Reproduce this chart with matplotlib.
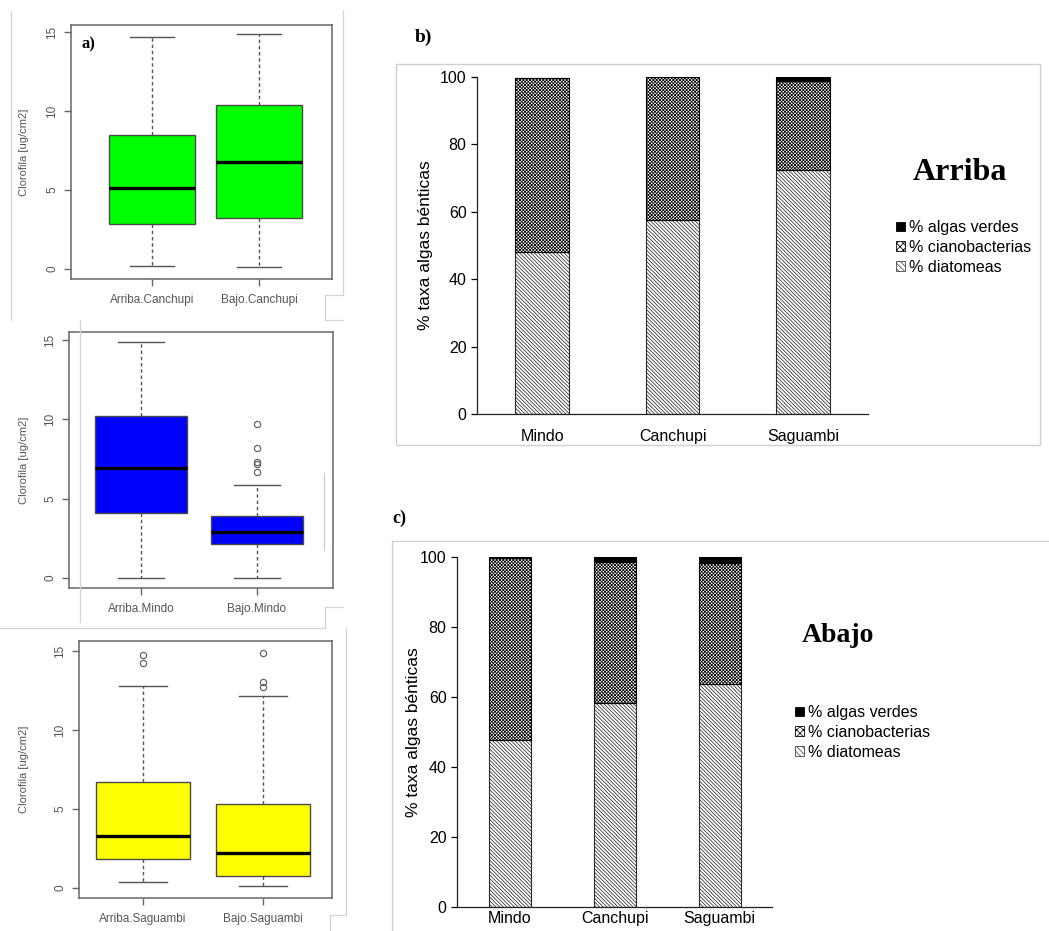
import numpy as np
import matplotlib
matplotlib.use('Agg')
from matplotlib import pyplot as plt
from matplotlib.patches import Patch, Rectangle
from matplotlib.lines import Line2D

W, H = 1049, 931

# ---- panel a) clorofila boxplots (five-number summaries read off the picture)
canchupi_labels = ['Arriba.Canchupi', 'Bajo.Canchupi']
canchupi_lo = [0.21, 0.10]
canchupi_q1 = [2.87, 3.23]
canchupi_med = [5.13, 6.77]
canchupi_q3 = [8.46, 10.36]
canchupi_hi = [14.66, 14.87]
canchupi_out = [[], []]

mindo_labels = ['Arriba.Mindo', 'Bajo.Mindo']
mindo_lo = [0.02, -0.03]
mindo_q1 = [4.12, 2.15]
mindo_med = [6.96, 2.88]
mindo_q3 = [10.22, 3.93]
mindo_hi = [14.85, 5.85]
mindo_out = [[], [6.65, 7.2, 7.28, 8.18, 9.72]]

saguambi_labels = ['Arriba.Saguambi', 'Bajo.Saguambi']
saguambi_lo = [0.36, 0.10]
saguambi_q1 = [1.83, 0.78]
saguambi_med = [3.27, 2.19]
saguambi_q3 = [6.68, 5.33]
saguambi_hi = [12.77, 12.18]
saguambi_out = [[14.22, 14.75], [12.7, 13.02, 14.9]]

# ---- panels b) and c) composition of benthic algae (%)
sitios = ['Mindo', 'Canchupi', 'Saguambi']
arriba_diatomeas = [48.2, 57.5, 72.4]
arriba_ciano = [51.6, 42.5, 26.3]
arriba_verdes = [0.0, 0.0, 1.3]
abajo_diatomeas = [47.8, 58.3, 63.8]
abajo_ciano = [52.0, 40.3, 34.5]
abajo_verdes = [0.2, 1.4, 1.7]
leyenda = ['% algas verdes', '% cianobacterias', '% diatomeas']

plt.rcParams['font.family'] = ['Liberation Sans', 'DejaVu Sans']
plt.rcParams['hatch.linewidth'] = 0.55

fig = plt.figure(figsize=(W / 100, H / 100), dpi=100)


def px_axes(l, t, r, b):
    # axes from pixel box (left, top, right, bottom)
    return fig.add_axes([l / W, 1 - b / H, (r - l) / W, (b - t) / H])


def px_line(x0, y0, x1, y1, color='#d4d4d4'):
    fig.add_artist(Line2D([x0 / W, x1 / W], [1 - y0 / H, 1 - y1 / H],
                          transform=fig.transFigure, color=color, lw=0.9))


def box_panel(rect, xlim, ylim, labels, lo, q1, med, q3, hi, out, color, width):
    ax = px_axes(*rect)
    stats = []
    for i in range(len(labels)):
        stats.append(dict(label=labels[i], whislo=lo[i], q1=q1[i], med=med[i],
                          q3=q3[i], whishi=hi[i], fliers=out[i]))
    ax.bxp(stats, positions=[1, 2], widths=width, patch_artist=True,
           boxprops=dict(facecolor=color, edgecolor='#4a4a4a', lw=1),
           medianprops=dict(color='black', lw=2.4, solid_capstyle='butt'),
           whiskerprops=dict(color='#555555', lw=1, linestyle=(0, (2.5, 2))),
           capprops=dict(color='#555555', lw=1),
           flierprops=dict(marker='o', mfc='none', mec='#666666', ms=4.5, mew=0.9))
    ax.set_xlim(*xlim)
    ax.set_ylim(*ylim)
    ax.set_yticks([0, 5, 10, 15])
    for s in ax.spines.values():
        s.set_color('#666666')
        s.set_linewidth(1.1)
    ax.tick_params(colors='#666666', labelcolor='#555555', labelsize=8.5,
                   length=5, width=1, direction='out')
    ax.tick_params(axis='y', pad=4)
    ax.tick_params(axis='x', pad=6)
    for lab in ax.get_yticklabels():
        lab.set_rotation(90)
        lab.set_va('center')
    ax.set_ylabel('Clorofila [ug/cm2]', fontsize=8, color='#555555')
    ax.yaxis.set_label_coords(-(rect[0] - 29) / (rect[2] - rect[0]), 0.5)
    return ax


ax1 = box_panel((71, 25, 332, 279), (0.243, 2.682), (-0.63, 15.44),
                canchupi_labels, canchupi_lo, canchupi_q1, canchupi_med,
                canchupi_q3, canchupi_hi, canchupi_out, '#00ff00', 0.81)
ax1.text(0.04, 0.955, 'a)', transform=ax1.transAxes, ha='left', va='top',
         fontsize=12, fontweight='bold', family='Liberation Serif')
box_panel((69, 332, 333, 588), (0.379, 2.655), (-0.63, 15.5),
          mindo_labels, mindo_lo, mindo_q1, mindo_med,
          mindo_q3, mindo_hi, mindo_out, '#0000ff', 0.79)
box_panel((79, 641, 332, 898), (0.467, 2.575), (-0.63, 15.63),
          saguambi_labels, saguambi_lo, saguambi_q1, saguambi_med,
          saguambi_q3, saguambi_hi, saguambi_out, '#ffff00', 0.79)

# cropped image borders around the left column
px_line(11, 11, 11, 320)
px_line(343, 11, 343, 295)
px_line(325, 295, 343, 295)
px_line(325, 295, 325, 320)
px_line(325, 320, 343, 320)
px_line(80, 320, 80, 622)
px_line(325, 607, 343, 607)
px_line(325, 607, 325, 628)
px_line(0, 628, 325, 628)
px_line(346, 628, 346, 915)
px_line(330, 915, 346, 915)
px_line(330, 915, 330, 931)
px_line(324, 473, 324, 550, color='#c8c8e8')

diat_hatch = '\\' * 9
ciano_hatch = 'x' * 10


def bar_panel(rect, diat, ciano, verdes, frame, titulo, tit_xy, leg_xy, width, xpad):
    fig.add_artist(Rectangle((frame[0] / W, 1 - frame[3] / H),
                             (frame[2] - frame[0]) / W, (frame[3] - frame[1]) / H,
                             transform=fig.transFigure, fill=False,
                             ec='#d0d0d0', lw=1))
    ax = px_axes(*rect)
    x = np.arange(len(sitios))
    diat = np.array(diat)
    ciano = np.array(ciano)
    verdes = np.array(verdes)
    ax.bar(x, diat, width, color='white', edgecolor='#2a2a2a', hatch=diat_hatch, lw=0.8)
    ax.bar(x, ciano, width, bottom=diat, color='white', edgecolor='black',
           hatch=ciano_hatch, lw=0.8)
    ax.bar(x, verdes, width, bottom=diat + ciano, color='black', edgecolor='black', lw=0.8)
    ax.set_xlim(-0.5, 2.5)
    ax.set_ylim(0, 100)
    ax.set_xticks(x)
    ax.set_xticklabels(sitios)
    ax.set_yticks([0, 20, 40, 60, 80, 100])
    ax.spines['top'].set_visible(False)
    ax.spines['right'].set_visible(False)
    for s in ('left', 'bottom'):
        ax.spines[s].set_color('#222222')
        ax.spines[s].set_linewidth(0.9)
    ax.tick_params(axis='y', length=4, width=0.9, pad=3.5, labelsize=11.5)
    ax.tick_params(axis='x', length=0, pad=xpad, labelsize=11.5)
    ax.set_ylabel('% taxa algas bénticas', fontsize=12.5)
    ax.yaxis.set_label_coords(-(rect[0] - tit_xy[2]) / (rect[2] - rect[0]), 0.5)
    fig.text(tit_xy[0] / W, 1 - tit_xy[1] / H, titulo, ha='center', va='center',
             fontsize=tit_xy[3], fontweight='bold', family='Liberation Serif')
    handles = [Patch(facecolor='black', edgecolor='black', lw=0.6),
               Patch(facecolor='white', edgecolor='black', hatch='xxxxx', lw=0.6),
               Patch(facecolor='white', edgecolor='#444444', hatch='\\\\\\\\\\\\', lw=0.6)]
    fig.legend(handles, leyenda, loc='upper left',
               bbox_to_anchor=(leg_xy[0] / W, 1 - leg_xy[1] / H),
               frameon=False, fontsize=11.5, handlelength=0.55, handleheight=0.55,
               handletextpad=0.25, labelspacing=0.3, borderpad=0, borderaxespad=0)
    return ax


bar_panel((477, 77, 868, 414), arriba_diatomeas, arriba_ciano, arriba_verdes,
          (396, 64, 1040, 445), 'Arriba', (960, 172, 433, 23), (896, 220), 0.41, 11)
bar_panel((457, 557, 772, 907), abajo_diatomeas, abajo_ciano, abajo_verdes,
          (392, 541, 1070, 960), 'Abajo', (838, 635, 421, 20), (795, 705), 0.40, 3)

fig.text(415 / W, 1 - 37 / H, 'b)', ha='left', va='center', fontsize=14,
         fontweight='bold', family='Liberation Serif')
fig.text(392 / W, 1 - 518 / H, 'c)', ha='left', va='center', fontsize=13,
         fontweight='bold', family='Liberation Serif')

fig.savefig('out.png', dpi=100)
